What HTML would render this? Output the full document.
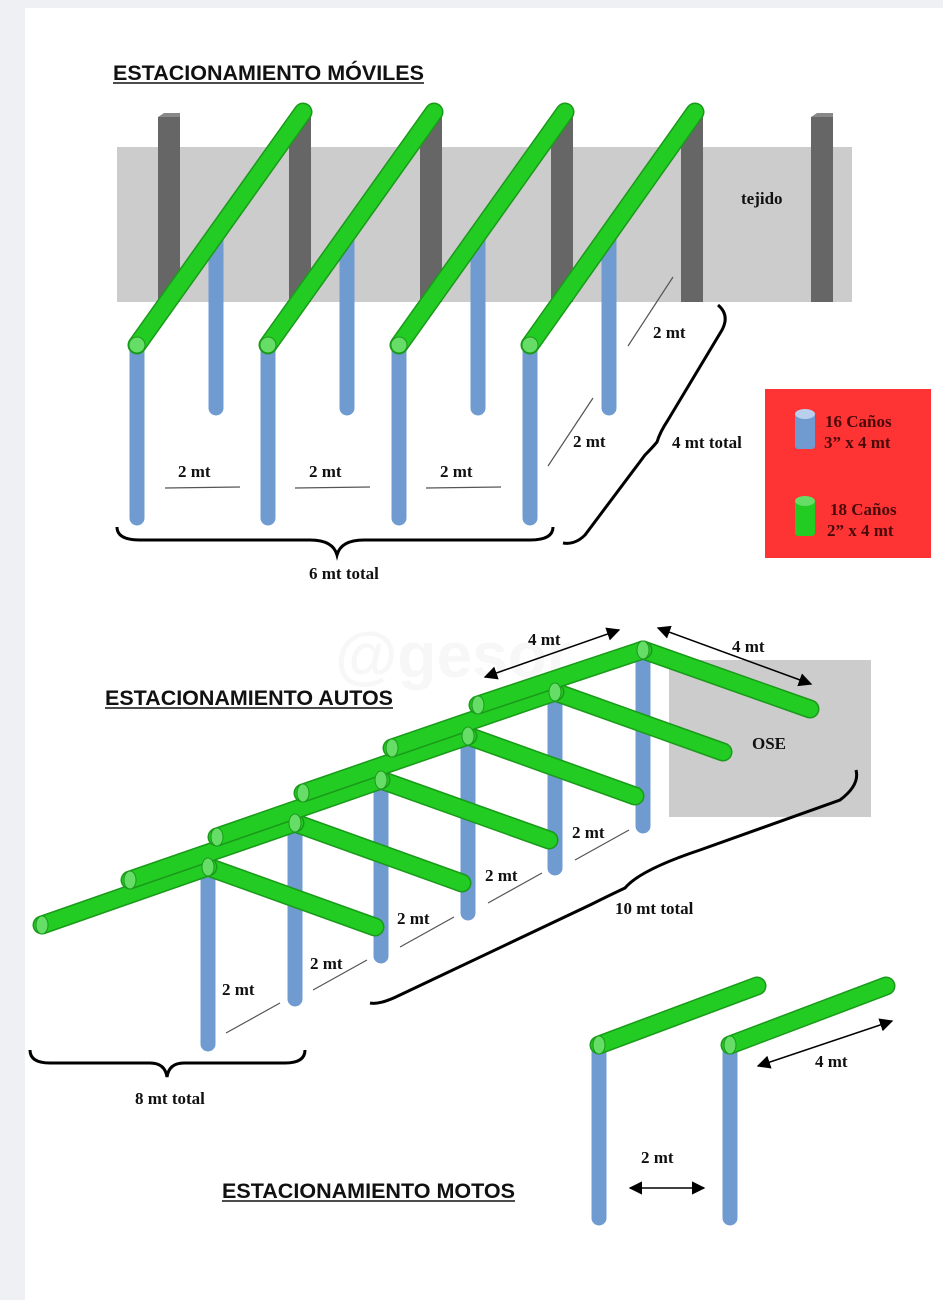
<!DOCTYPE html>
<html><head><meta charset="utf-8"><style>
html,body{margin:0;padding:0;background:#eef0f3;}
svg{display:block;}
.t{font-family:"Liberation Serif",serif;font-weight:bold;font-size:17px;fill:#111;}
.h{font-family:"Liberation Sans Narrow","Liberation Sans",sans-serif;font-weight:bold;font-size:21px;fill:#111;}
.g{stroke:#1a9a1a;stroke-width:19;stroke-linecap:round;}
.gi{stroke:#22cc22;stroke-width:16;stroke-linecap:round;}
.b{stroke:#6f9bd1;stroke-width:15;stroke-linecap:round;}
.d{stroke:#555;stroke-width:1.2;}
.br{fill:none;stroke:#000;stroke-width:3;}
</style></head><body>
<svg width="943" height="1300" viewBox="0 0 943 1300" xmlns="http://www.w3.org/2000/svg">
<defs>
<marker id="ah" viewBox="0 0 10 10" refX="9" refY="5" markerWidth="9" markerHeight="9" orient="auto-start-reverse"><path d="M0,0L10,5L0,10z" fill="#000"/></marker>
</defs>
<rect x="25" y="8" width="918" height="1292" fill="#fff"/>
<!-- MOVILES -->
<text x="113" y="80" class="h" textLength="311" lengthAdjust="spacingAndGlyphs">ESTACIONAMIENTO MÓVILES</text>
<line x1="113" y1="83" x2="424" y2="83" stroke="#111" stroke-width="1.5"/>
<rect x="117" y="147" width="735" height="155" fill="#cccccc"/>
<g fill="#666">
<rect x="158" y="117" width="22" height="185"/><rect x="289" y="117" width="22" height="185"/>
<rect x="420" y="117" width="22" height="185"/><rect x="551" y="117" width="22" height="185"/>
<rect x="681" y="117" width="22" height="185"/><rect x="811" y="117" width="22" height="185"/>
</g>
<g fill="#888"><polygon points="158,117 164,113 180,113 180,117"/><polygon points="811,117 817,113 833,113 833,117"/></g>
<g class="b">
<line x1="216" y1="232" x2="216" y2="408"/><line x1="347" y1="232" x2="347" y2="408"/>
<line x1="478" y1="232" x2="478" y2="408"/><line x1="609" y1="232" x2="609" y2="408"/>
<line x1="137" y1="350" x2="137" y2="518"/><line x1="268" y1="350" x2="268" y2="518"/>
<line x1="399" y1="350" x2="399" y2="518"/><line x1="530" y1="350" x2="530" y2="518"/>
</g>
<g>
<line class="g" x1="137" y1="345" x2="303" y2="112"/><line class="gi" x1="137" y1="345" x2="303" y2="112"/>
<line class="g" x1="268" y1="345" x2="434" y2="112"/><line class="gi" x1="268" y1="345" x2="434" y2="112"/>
<line class="g" x1="399" y1="345" x2="565" y2="112"/><line class="gi" x1="399" y1="345" x2="565" y2="112"/>
<line class="g" x1="530" y1="345" x2="695" y2="112"/><line class="gi" x1="530" y1="345" x2="695" y2="112"/>
</g>
<g fill="#66dd66" stroke="#1a9a1a" stroke-width="1"><circle cx="137" cy="345" r="8"/><circle cx="268" cy="345" r="8"/><circle cx="399" cy="345" r="8"/><circle cx="530" cy="345" r="8"/></g>
<text x="741" y="204" class="t">tejido</text>
<g class="d"><line x1="165" y1="488" x2="240" y2="487"/><line x1="295" y1="488" x2="370" y2="487"/><line x1="426" y1="488" x2="501" y2="487"/>
<line x1="548" y1="466" x2="593" y2="398"/><line x1="628" y1="346" x2="673" y2="277"/></g>
<text x="178" y="477" class="t">2 mt</text><text x="309" y="477" class="t">2 mt</text><text x="440" y="477" class="t">2 mt</text>
<text x="573" y="447" class="t">2 mt</text><text x="653" y="338" class="t">2 mt</text>
<path class="br" d="M117,527 Q117,540 140,540 L310,540 Q333,540 337,555 Q341,540 364,540 L530,540 Q553,540 553,527"/>
<text x="309" y="579" class="t">6 mt total</text>
<path class="br" d="M718,305 Q730,315 722,330 L668,420 Q660,432 657,442 Q652,448 645,455 L585,535 Q575,545 563,543"/>
<text x="672" y="448" class="t">4 mt total</text>
<rect x="765" y="389" width="166" height="169" fill="#fe3333"/>
<rect x="795" y="413" width="20" height="36" rx="3" fill="#6f9bd1"/><ellipse cx="805" cy="414" rx="10" ry="5" fill="#b8d0ee"/>
<rect x="795" y="500" width="20" height="36" rx="3" fill="#22cc22"/><ellipse cx="805" cy="501" rx="10" ry="5" fill="#66dd66"/>
<g class="t" style="fill:#4a0a0a"><text x="825" y="427">16 Caños</text><text x="824" y="448">3” x 4 mt</text>
<text x="830" y="515">18 Caños</text><text x="827" y="536">2” x 4 mt</text></g>
<!-- AUTOS -->
<text x="335" y="677" font-family="Liberation Sans,sans-serif" font-weight="bold" font-size="64" fill="#f7f7f7">@gesor</text>
<text x="105" y="705" class="h" textLength="288" lengthAdjust="spacingAndGlyphs">ESTACIONAMIENTO AUTOS</text>
<line x1="105" y1="708" x2="393" y2="708" stroke="#111" stroke-width="1.5"/>
<rect x="669" y="660" width="202" height="157" fill="#cccccc"/>
<text x="752" y="749" class="t">OSE</text>
<g class="b">
<line x1="643" y1="655" x2="643" y2="826"/><line x1="555" y1="697" x2="555" y2="868"/>
<line x1="468" y1="740" x2="468" y2="913"/><line x1="381" y1="785" x2="381" y2="956"/>
<line x1="295" y1="828" x2="295" y2="999"/><line x1="208" y1="872" x2="208" y2="1044"/>
</g>
<g>
<line class="g" x1="643" y1="650" x2="810" y2="709"/><line class="gi" x1="643" y1="650" x2="810" y2="709"/>
<line class="g" x1="555" y1="692" x2="723" y2="752"/><line class="gi" x1="555" y1="692" x2="723" y2="752"/>
<line class="g" x1="468" y1="736" x2="635" y2="796"/><line class="gi" x1="468" y1="736" x2="635" y2="796"/>
<line class="g" x1="381" y1="780" x2="549" y2="840"/><line class="gi" x1="381" y1="780" x2="549" y2="840"/>
<line class="g" x1="295" y1="823" x2="462" y2="883"/><line class="gi" x1="295" y1="823" x2="462" y2="883"/>
<line class="g" x1="208" y1="867" x2="375" y2="927"/><line class="gi" x1="208" y1="867" x2="375" y2="927"/>
<line class="g" x1="42" y1="925" x2="208" y2="867"/><line class="gi" x1="42" y1="925" x2="208" y2="867"/>
<line class="g" x1="130" y1="880" x2="295" y2="823"/><line class="gi" x1="130" y1="880" x2="295" y2="823"/>
<line class="g" x1="217" y1="837" x2="381" y2="780"/><line class="gi" x1="217" y1="837" x2="381" y2="780"/>
<line class="g" x1="303" y1="793" x2="468" y2="736"/><line class="gi" x1="303" y1="793" x2="468" y2="736"/>
<line class="g" x1="392" y1="748" x2="555" y2="692"/><line class="gi" x1="392" y1="748" x2="555" y2="692"/>
<line class="g" x1="478" y1="705" x2="643" y2="650"/><line class="gi" x1="478" y1="705" x2="643" y2="650"/>
</g>
<g fill="#66dd66" stroke="#1a9a1a" stroke-width="1">
<ellipse cx="42" cy="925" rx="6" ry="9"/><ellipse cx="130" cy="880" rx="6" ry="9"/><ellipse cx="217" cy="837" rx="6" ry="9"/>
<ellipse cx="303" cy="793" rx="6" ry="9"/><ellipse cx="392" cy="748" rx="6" ry="9"/><ellipse cx="478" cy="705" rx="6" ry="9"/>
<ellipse cx="208" cy="867" rx="6" ry="9"/><ellipse cx="295" cy="823" rx="6" ry="9"/><ellipse cx="381" cy="780" rx="6" ry="9"/>
<ellipse cx="468" cy="736" rx="6" ry="9"/><ellipse cx="555" cy="692" rx="6" ry="9"/><ellipse cx="643" cy="650" rx="6" ry="9"/>
</g>
<g class="d"><line x1="226" y1="1033" x2="280" y2="1003"/><line x1="313" y1="990" x2="367" y2="960"/><line x1="400" y1="947" x2="454" y2="917"/>
<line x1="488" y1="903" x2="542" y2="873"/><line x1="575" y1="860" x2="629" y2="830"/></g>
<text x="222" y="995" class="t">2 mt</text><text x="310" y="969" class="t">2 mt</text><text x="397" y="924" class="t">2 mt</text>
<text x="485" y="881" class="t">2 mt</text><text x="572" y="838" class="t">2 mt</text>
<path class="br" d="M856,770 Q860,785 840,800 L700,850 Q640,870 625,888 Q610,895 590,905 L400,995 Q380,1005 370,1003"/>
<text x="615" y="914" class="t">10 mt total</text>
<path class="br" d="M30,1050 Q30,1063 50,1063 L150,1063 Q165,1063 167,1077 Q169,1063 184,1063 L285,1063 Q305,1063 305,1050"/>
<text x="135" y="1104" class="t">8 mt total</text>
<line x1="485" y1="677" x2="619" y2="630" stroke="#000" stroke-width="1.5" marker-start="url(#ah)" marker-end="url(#ah)"/>
<text x="528" y="645" class="t">4 mt</text>
<line x1="658" y1="628" x2="811" y2="684" stroke="#000" stroke-width="1.5" marker-start="url(#ah)" marker-end="url(#ah)"/>
<text x="732" y="652" class="t">4 mt</text>
<!-- MOTOS -->
<text x="222" y="1198" class="h" textLength="293" lengthAdjust="spacingAndGlyphs">ESTACIONAMIENTO MOTOS</text>
<line x1="222" y1="1201" x2="515" y2="1201" stroke="#111" stroke-width="1.5"/>
<g class="b"><line x1="599" y1="1048" x2="599" y2="1218"/><line x1="730" y1="1048" x2="730" y2="1218"/></g>
<line class="g" x1="599" y1="1045" x2="757" y2="986"/><line class="gi" x1="599" y1="1045" x2="757" y2="986"/>
<line class="g" x1="730" y1="1045" x2="886" y2="986"/><line class="gi" x1="730" y1="1045" x2="886" y2="986"/>
<g fill="#66dd66" stroke="#1a9a1a" stroke-width="1"><ellipse cx="599" cy="1045" rx="6" ry="9"/><ellipse cx="730" cy="1045" rx="6" ry="9"/></g>
<line x1="758" y1="1066" x2="892" y2="1021" stroke="#000" stroke-width="1.5" marker-start="url(#ah)" marker-end="url(#ah)"/>
<text x="815" y="1067" class="t">4 mt</text>
<line x1="630" y1="1188" x2="704" y2="1188" stroke="#000" stroke-width="1.5" marker-start="url(#ah)" marker-end="url(#ah)"/>
<text x="641" y="1163" class="t">2 mt</text>
</svg>
</body></html>
